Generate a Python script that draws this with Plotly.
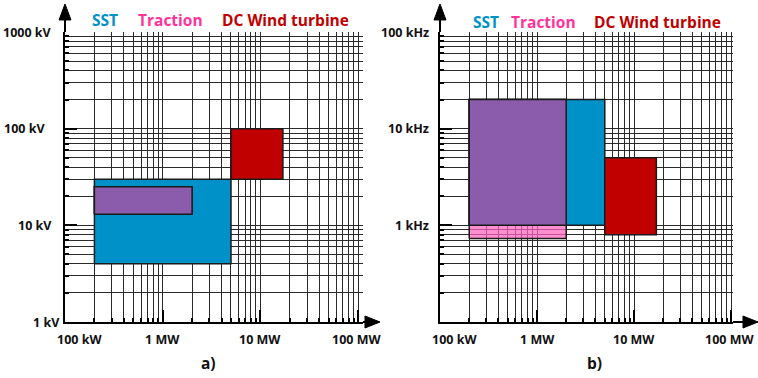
import math
import plotly.graph_objects as go

W, H = 758, 378

# Power ranges (W) for each application
power_sst = [2e5, 5e6]
power_traction = [2e5, 2e6]
power_wind = [5e6, 1.7e7]

# Voltage ranges (kV)
volt_sst = [4, 30]
volt_traction = [13, 25]
volt_wind = [30, 100]

# Switching frequency ranges (kHz)
freq_sst = [1, 20]
freq_traction = [0.73, 20]
freq_wind = [0.8, 5]

# Tick labels
power_ticks = [1e5, 1e6, 1e7, 1e8]
power_labels = ["100 kW", "1 MW", "10 MW", "100 MW"]
volt_ticks = [1, 10, 100, 1000]
volt_labels = ["1 kV", "10 kV", "100 kV", "1000 kV"]
freq_ticks = [1, 10, 100]
freq_labels = ["1 kHz", "10 kHz", "100 kHz"]

app_names = ["SST", "Traction", "DC Wind turbine"]

BLUE = "#0091c9"
PURPLE = "#8b5cab"
RED = "#c00000"
PINK_FILL = "rgba(255,100,190,0.72)"
PINK_TEXT = "#ff3399"
GRID = "#2a2a2a"
FONT = "Open Sans"


def px_x(p):
    return p / W


def px_y(p):
    return 1 - p / H


def log_axis(major, lo_exp, hi_exp, rng, domain, anchor):
    minor_vals = [m * 10 ** e for e in range(lo_exp, hi_exp) for m in range(2, 10)]
    return dict(
        type="log", range=rng, domain=domain, anchor=anchor,
        tickvals=major, showticklabels=False,
        ticks="inside", ticklen=12, tickwidth=2, tickcolor="black",
        showgrid=True, gridcolor=GRID, gridwidth=1,
        showline=True, linecolor="black", linewidth=2,
        zeroline=False, fixedrange=True,
        minor=dict(tickvals=minor_vals, ticks="inside", ticklen=4,
                   tickwidth=2, tickcolor="black",
                   showgrid=True, gridcolor=GRID, gridwidth=1),
    )


def rect(xr, yr, fill, xa, ya, edge="#1a1a1a"):
    return go.Scatter(
        x=[xr[0], xr[1], xr[1], xr[0], xr[0]],
        y=[yr[0], yr[0], yr[1], yr[1], yr[0]],
        fill="toself", fillcolor=fill, mode="lines",
        line=dict(color=edge, width=1.5),
        xaxis=xa, yaxis=ya, hoverinfo="skip", showlegend=False,
    )


def overlap(a, b):
    return [max(a[0], b[0]), min(a[1], b[1])]


fig = go.Figure()

# Panel a): voltage vs power
fig.add_trace(rect(power_sst, volt_sst, BLUE, "x", "y"))
fig.add_trace(rect(power_traction, volt_traction, PINK_FILL, "x", "y"))
fig.add_trace(rect(overlap(power_sst, power_traction), overlap(volt_sst, volt_traction), PURPLE, "x", "y"))
fig.add_trace(rect(power_wind, volt_wind, RED, "x", "y"))

# Panel b): switching frequency vs power
fig.add_trace(rect(power_sst, freq_sst, BLUE, "x2", "y2"))
fig.add_trace(rect(power_traction, freq_traction, PINK_FILL, "x2", "y2"))
fig.add_trace(rect(overlap(power_sst, power_traction), overlap(freq_sst, freq_traction), PURPLE, "x2", "y2"))
fig.add_trace(rect(power_wind, freq_wind, RED, "x2", "y2"))

ydom = [px_y(322), px_y(32)]
fig.update_layout(
    width=W, height=H, margin=dict(l=0, r=0, t=0, b=0),
    paper_bgcolor="white", plot_bgcolor="white", showlegend=False,
    xaxis=log_axis(power_ticks, 5, 8, [5, 5 + 298 / 97.7], [px_x(65), px_x(363)], "y"),
    yaxis=log_axis(volt_ticks, 0, 3, [0, 3], ydom, "x"),
    xaxis2=log_axis(power_ticks, 5, 8, [5, 5 + 293 / 97.0], [px_x(440), px_x(733)], "y2"),
    yaxis2=log_axis(freq_ticks, -1, 2, [-1, 2], ydom, "x2"),
)

ann = []
shapes = []
label_font = dict(family=FONT, size=12.5, color="#111111", weight="bold")

# Power tick labels under both panels
for xa in ["x", "x2"]:
    for i, (v, t) in enumerate(zip(power_ticks, power_labels)):
        ann.append(dict(x=math.log10(v), y=px_y(339), xref=xa, yref="paper",
                        text=t, showarrow=False, font=label_font,
                        xanchor="center", yanchor="middle",
                        xshift=14 if i == 0 else (-2 if i == 3 else 0)))

# Vertical tick labels
volt_shift = [8, 0, -7, 0]
for v, t, s in zip(volt_ticks, volt_labels, volt_shift):
    ann.append(dict(x=px_x(54), y=math.log10(v), xref="paper", yref="y",
                    text=t, showarrow=False, font=label_font,
                    xanchor="right", yanchor="middle", xshift=s))
for v, t in zip(freq_ticks, freq_labels):
    ann.append(dict(x=px_x(431), y=math.log10(v), xref="paper", yref="y2",
                    text=t, showarrow=False, font=label_font,
                    xanchor="right", yanchor="middle"))

# Coloured application names above each panel
title_colors = [BLUE, PINK_TEXT, RED]
for centers, yc in [([105, 170, 285], 20), ([486, 543, 657], 22)]:
    for name, c, xc in zip(app_names, title_colors, centers):
        ann.append(dict(x=px_x(xc), y=px_y(yc), xref="paper", yref="paper",
                        text=name, showarrow=False,
                        xanchor="center", yanchor="middle",
                        font=dict(family=FONT, size=15.5, color=c, weight="bold")))

# Panel captions
for txt, xc in [("a)", 208), ("b)", 594)]:
    ann.append(dict(x=px_x(xc), y=px_y(363), xref="paper", yref="paper",
                    text=txt, showarrow=False, xanchor="center", yanchor="middle",
                    font=dict(family=FONT, size=15.5, color="#111111", weight="bold")))

# Axis arrows
for x_axis, x_end, x_tip in [(65, 363, 380), (440, 733, 758)]:
    # vertical arrow
    shapes.append(dict(type="line", xref="paper", yref="paper",
                       x0=px_x(x_axis), x1=px_x(x_axis), y0=px_y(32), y1=px_y(19),
                       line=dict(color="black", width=2)))
    shapes.append(dict(type="path", xref="paper", yref="paper",
                       path="M %f %f L %f %f L %f %f Z" % (
                           px_x(x_axis - 6), px_y(20), px_x(x_axis), px_y(4),
                           px_x(x_axis + 6), px_y(20)),
                       fillcolor="black", line=dict(color="black", width=1)))
    # horizontal arrow
    shapes.append(dict(type="line", xref="paper", yref="paper",
                       x0=px_x(x_end), x1=px_x(x_tip - 14), y0=px_y(322), y1=px_y(322),
                       line=dict(color="black", width=2)))
    shapes.append(dict(type="path", xref="paper", yref="paper",
                       path="M %f %f L %f %f L %f %f Z" % (
                           px_x(x_tip - 15), px_y(316), px_x(x_tip), px_y(322),
                           px_x(x_tip - 15), px_y(328)),
                       fillcolor="black", line=dict(color="black", width=1)))

fig.update_layout(annotations=ann, shapes=shapes)
fig.write_html("out.html")
